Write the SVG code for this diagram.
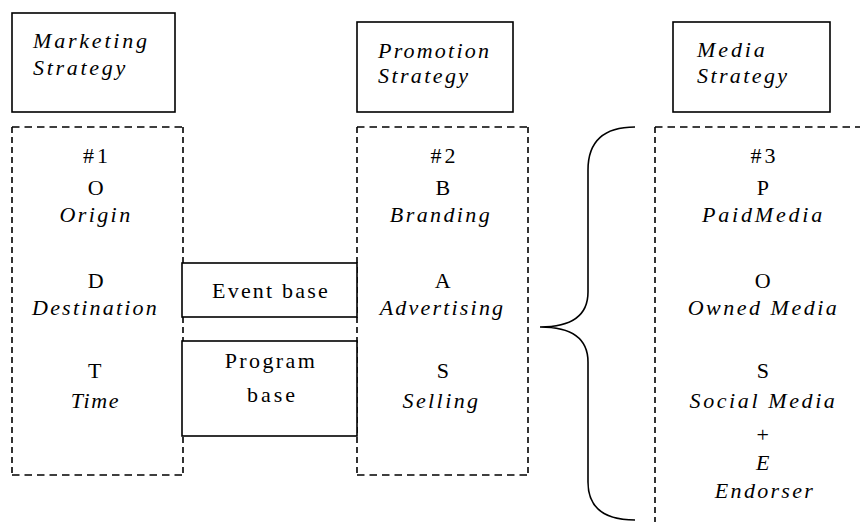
<svg xmlns="http://www.w3.org/2000/svg" width="860" height="522" viewBox="0 0 860 522">
<style>
.box{fill:#fff;stroke:#000;stroke-width:1.6}
.dh{fill:none;stroke:#000;stroke-width:1.6;stroke-dasharray:7.5 5}
.dv{fill:none;stroke:#000;stroke-width:1.6;stroke-dasharray:6 4}
text{font-family:"Liberation Serif","Times New Roman",serif;font-size:22px;fill:#000;letter-spacing:2.4px}
.i{font-style:italic}
.c{text-anchor:middle}
</style>
<rect width="860" height="522" fill="#fff"/>
<g id="marketing-strategy">
<rect class="box" x="12" y="13" width="163" height="99"/>
<text class="i" x="33" y="48" style="letter-spacing:2.8px">Marketing</text>
<text class="i" x="33" y="75" style="letter-spacing:2.7px">Strategy</text>
</g>
<g id="promotion-strategy">
<rect class="box" x="357" y="22" width="156" height="90"/>
<text class="i" x="378" y="58" style="letter-spacing:2.2px">Promotion</text>
<text class="i" x="378" y="83">Strategy</text>
</g>
<g id="media-strategy">
<rect class="box" x="673" y="22" width="157" height="90"/>
<text class="i" x="697" y="57" style="letter-spacing:2.9px">Media</text>
<text class="i" x="697" y="83">Strategy</text>
</g>
<g id="odt">
<path class="dh" d="M12 127H183M12 475H183"/>
<path class="dv" d="M12 127V475M183 127V475"/>
<text class="c" x="97" y="163" style="letter-spacing:3px">#1</text>
<text class="c" x="97" y="195">O</text>
<text class="i c" x="96" y="222">Origin</text>
<text class="c" x="97" y="288">D</text>
<text class="i c" x="95.5" y="315" style="letter-spacing:2.2px">Destination</text>
<text class="c" x="96" y="378">T</text>
<text class="i c" x="95.5" y="408" style="letter-spacing:1.7px">Time</text>
</g>
<g id="bas">
<path class="dh" d="M357 127H528M357 475H528"/>
<path class="dv" d="M357 127V475M528 127V475"/>
<text class="c" x="444.5" y="163" style="letter-spacing:3px">#2</text>
<text class="c" x="444" y="195">B</text>
<text class="i c" x="441" y="222">Branding</text>
<text class="c" x="444" y="288">A</text>
<text class="i c" x="442.5" y="315" style="letter-spacing:2.2px">Advertising</text>
<text class="c" x="444" y="378">S</text>
<text class="i c" x="441.5" y="408">Selling</text>
</g>
<g id="event-base">
<rect class="box" x="182" y="263" width="175" height="54"/>
<text class="c" x="271" y="298" style="letter-spacing:2.2px">Event base</text>
</g>
<g id="program-base">
<rect class="box" x="182" y="341" width="175" height="95"/>
<text class="c" x="271" y="368">Program</text>
<text class="c" x="272.5" y="402" style="letter-spacing:3px">base</text>
</g>
<g id="poe">
<path class="dh" d="M655 127H870"/>
<path class="dv" d="M655 127V530"/>
<text class="c" x="764.5" y="163" style="letter-spacing:3px">#3</text>
<text class="c" x="764" y="195">P</text>
<text class="i c" x="763.5" y="222" style="letter-spacing:2.8px">PaidMedia</text>
<text class="c" x="764" y="288">O</text>
<text class="i c" x="763.5" y="315" style="letter-spacing:2.5px">Owned Media</text>
<text class="c" x="764" y="378">S</text>
<text class="i c" x="763.5" y="408" style="letter-spacing:2.6px">Social Media</text>
<text class="c" x="764" y="442">+</text>
<text class="i c" x="764" y="470">E</text>
<text class="i c" x="765" y="498" style="letter-spacing:2.3px">Endorser</text>
</g>
<g id="connectors">
<path d="M635 127Q588 127 588 170V292Q588 327 540 327Q588 327 588 362V482Q588 520 635 520" fill="none" stroke="#000" stroke-width="1.6"/>
</g>
</svg>
